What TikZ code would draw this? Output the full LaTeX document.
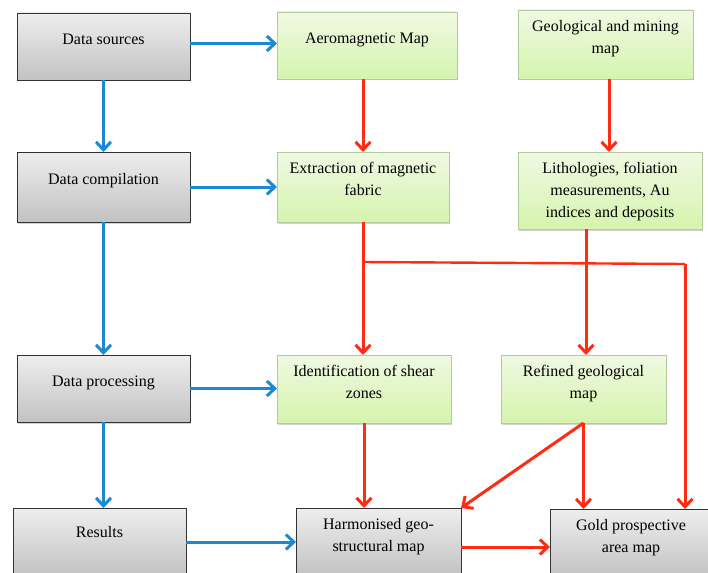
\documentclass[tikz,border=0pt]{standalone}
\usepackage{fontspec}
\setmainfont{Liberation Serif}
\usetikzlibrary{arrows.meta,shadows}
\definecolor{bluearr}{HTML}{1B8AD3}
\definecolor{redarr}{HTML}{FF2B12}
\definecolor{graytop}{HTML}{EEEEEE}
\definecolor{graybot}{HTML}{C2C2C2}
\definecolor{greentop}{HTML}{F0F9E2}
\definecolor{greenbot}{HTML}{D5F4AE}
\definecolor{greenline}{HTML}{B4C99C}
\newcommand\boxtext[4]{\parbox[c][#2][t]{#1}{\centering\fontsize{16}{22}\selectfont\vspace*{#3}#4\par}}
\begin{document}
\begin{tikzpicture}[x=1pt,y=-1pt,
  basebox/.style={anchor=north west, inner sep=0pt, outer sep=0pt,
    drop shadow={shadow xshift=1.2pt, shadow yshift=-1.5pt, opacity=0.35}},
  graybox/.style={basebox, draw=black!80, line width=0.9pt, top color=graytop, bottom color=graybot},
  greenbox/.style={basebox, draw=greenline, line width=0.9pt, top color=greentop, bottom color=greenbot},
  bluearrow/.style={draw=bluearr, line width=3pt, -{Straight Barb[length=8pt,width=15pt]}},
  redarrow/.style={draw=redarr, line width=3pt, -{Straight Barb[length=8pt,width=15pt]}},
  redline/.style={draw=redarr, line width=2.4pt}]
\useasboundingbox (0,0) rectangle (708,572);
% left column
\node[graybox] (ds) at (17,13) {\boxtext{173pt}{67pt}{21pt}{Data sources}};
\node[graybox] (dc) at (17,152) {\boxtext{173pt}{70pt}{21pt}{Data compilation}};
\node[graybox] (dp) at (17,355) {\boxtext{173pt}{67pt}{21pt}{Data processing}};
\node[graybox] (res) at (13,508) {\boxtext{173pt}{68pt}{18pt}{Results}};
% green boxes
\node[greenbox] (aero) at (277,12) {\boxtext{180pt}{67pt}{21pt}{Aeromagnetic Map}};
\node[greenbox] (ext) at (277,152) {\boxtext{172pt}{70pt}{10pt}{Extraction of magnetic\\fabric}};
\node[greenbox] (geo) at (518,10) {\boxtext{175pt}{69pt}{10pt}{Geological and mining\\map}};
\node[greenbox] (lith) at (518,152) {\boxtext{184pt}{77pt}{10pt}{Lithologies, foliation\\measurements, Au\\indices and deposits}};
\node[greenbox] (ident) at (277,355) {\boxtext{174pt}{68pt}{10pt}{Identification of shear\\zones}};
\node[greenbox] (ref) at (501,355) {\boxtext{165pt}{68pt}{10pt}{Refined geological\\map}};
% results boxes
\node[graybox] (harm) at (296,508) {\boxtext{165pt}{68pt}{10pt}{Harmonised geo-\\structural map}};
\node[graybox] (gold) at (550,509) {\boxtext{162pt}{68pt}{10pt}{Gold prospective\\area map}};
% blue arrows
\draw[bluearrow] ([yshift=3pt]ds.east) -- ([yshift=3pt]ds.east -| aero.west);
\draw[bluearrow] (ds.south) -- (dc.north);
\draw[bluearrow] (dc.east) -- (dc.east -| ext.west);
\draw[bluearrow] (dc.south) -- (dp.north);
\draw[bluearrow] (dp.east) -- (dp.east -| ident.west);
\draw[bluearrow] (dp.south) -- (dp.south |- res.north);
\draw[bluearrow] (res.east) -- (res.east -| harm.west);
% red arrows
\draw[redarrow] (aero.south -| ext.north) -- (ext.north);
\draw[redarrow] ([xshift=91pt]geo.south west) -- ([xshift=91pt]geo.south west |- lith.north);
\coordinate (jn) at (ext.south |- 0,262);
\coordinate (jr) at (685,264);
\draw[redarrow] (ext.south) -- (ext.south |- ident.north);
\draw[redline] (jn) -- (jr);
\draw[redarrow] (jr) -- (jr |- gold.north);
\draw[redarrow] ([xshift=68pt]lith.south west) -- ([xshift=68pt]lith.south west |- ref.north);
\draw[redarrow] (ident.south) -- (ident.south |- harm.north);
\draw[redarrow] (ref.south) -- (harm.north east);
\draw[redarrow] (ref.south) -- (ref.south |- gold.north);
\draw[redarrow] ([yshift=-5pt]harm.east) -- ([yshift=-5pt]harm.east -| gold.west);
\end{tikzpicture}
\end{document}
